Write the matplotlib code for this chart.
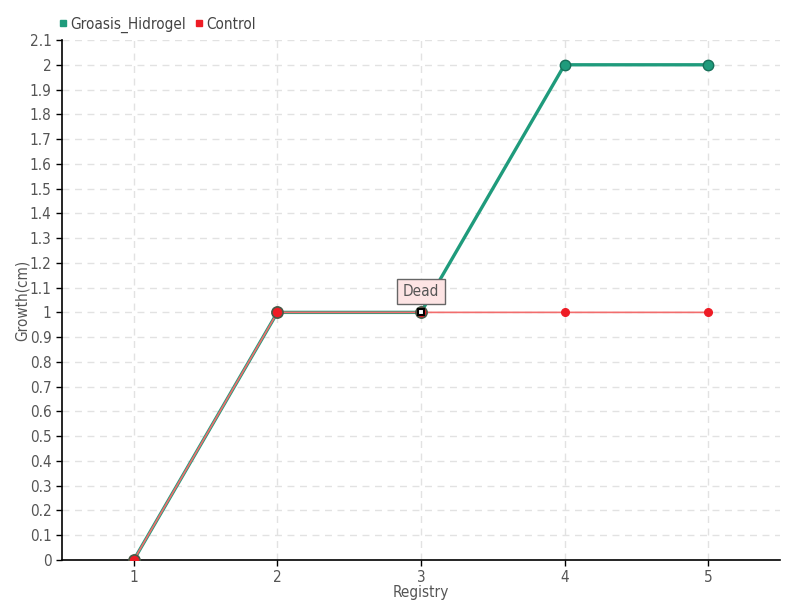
import matplotlib
matplotlib.use("Agg")
import matplotlib.pyplot as plt
from matplotlib.lines import Line2D

plt.rcParams['font.family'] = ['DejaVu Sans']
plt.rcParams['font.stretch'] = 'condensed'

registry = [1, 2, 3, 4, 5]
groasis = [0, 1, 1, 2, 2]
control = [0, 1, 1, 1, 1]
yticks = [round(i * 0.1, 1) for i in range(22)]
ytick_labels = ['0', '0.1', '0.2', '0.3', '0.4', '0.5', '0.6', '0.7', '0.8', '0.9', '1',
                '1.1', '1.2', '1.3', '1.4', '1.5', '1.6', '1.7', '1.8', '1.9', '2', '2.1']

green = '#1f9b7c'
red = '#ee1c25'

fig = plt.figure(figsize=(8, 6), dpi=100)
ax = fig.add_axes([0.0775, 0.0667, 0.8975, 0.8666])

ax.plot(registry, groasis, color=green, lw=2.4, marker='o', ms=7.5,
        markerfacecolor=green, markeredgecolor='#17705a', zorder=3)
ax.plot(registry, control, color='#f26d6d', lw=1.2, marker='o', ms=5.5,
        markerfacecolor=red, markeredgecolor=red, zorder=4)
# overlapping points with darker rim
for x, y in zip(registry[:3], control[:3]):
    ax.plot(x, y, 'o', ms=8, markerfacecolor=red, markeredgecolor='#4a5a48', mew=1.2, zorder=5)
# dead marker
ax.plot(3, 1, 's', ms=4.5, markerfacecolor='white', markeredgecolor='black', mew=1.5, zorder=6)
ax.annotate('Dead', xy=(3, 1), xytext=(0, 15), textcoords='offset points',
            ha='center', va='center', fontsize=11, color='#555555',
            bbox=dict(boxstyle='square,pad=0.35', fc='#fde4e4', ec='#666666', lw=1),
            zorder=7)

ax.set_xlim(0.5, 5.5)
ax.set_ylim(0, 2.1)
ax.set_xticks(registry)
ax.set_xticklabels([str(r) for r in registry])
ax.set_yticks(yticks)
ax.set_yticklabels(ytick_labels)
ax.tick_params(axis='both', labelsize=11, labelcolor='#555555', length=4, width=1, color='black')
ax.spines['top'].set_visible(False)
ax.spines['right'].set_visible(False)
ax.spines['left'].set_linewidth(1.2)
ax.spines['bottom'].set_linewidth(1.2)
ax.grid(True, linestyle=(0, (5, 4)), color='#e2e2e2', lw=1)
ax.set_axisbelow(True)

ax.set_xlabel('Registry', fontsize=11, color='#555555')
ax.set_ylabel('Growth(cm)', fontsize=11, color='#555555')
ax.yaxis.set_label_coords(-0.045, 0.5)
ax.xaxis.set_label_coords(0.5, -0.048)

handles = [Line2D([], [], ls='none', marker='s', ms=5, color=green),
           Line2D([], [], ls='none', marker='s', ms=5, color=red)]
fig.legend(handles, ['Groasis_Hidrogel', 'Control'], loc='upper left',
           bbox_to_anchor=(0.052, 0.995), ncol=2, frameon=False, fontsize=11,
           handletextpad=0.0, columnspacing=0.3, handlelength=1.0,
           labelcolor='#444444')

fig.savefig('out.png', dpi=100)
